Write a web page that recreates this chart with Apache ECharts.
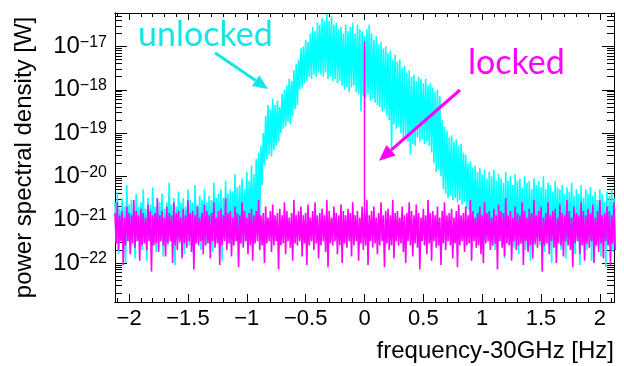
<!DOCTYPE html>
<html>
<head>
<meta charset="utf-8">
<script src="https://cdn.jsdelivr.net/npm/echarts@6/dist/echarts.min.js"></script>
<style>
  html, body { margin: 0; padding: 0; background: #fff; }
  #chart { width: 624px; height: 366px; }
</style>
</head>
<body>
<div id="chart"></div>
<script>
// frequency grid (offset from 30 GHz, Hz); each bin holds an upper and a lower noise excursion
const freqStart = -2.12;
const freqStep = 0.02;

// log10 of power spectral density [W]
const unlockedHigh = [
    -20.6, -20.35, -20.75, -20.5, -20.7, -20.2, -20.65, -20.55, -20.8, -20.4,
    -20.7, -20.6, -20.3, -20.75, -20.5, -20.65, -20.25, -20.7, -20.55, -20.6,
    -20.4, -20.75, -20.6, -20.15, -20.65, -20.5, -20.7, -20.35, -20.6, -20.5,
    -20.7, -20.3, -20.55, -20.6, -20.2, -20.65, -20.45, -20.55, -20.3, -20.6,
    -20.45, -20.55, -20.15, -20.5, -20.4, -20.3, -20.5, -20.1, -20.4, -20.3,
    -20.35, -19.95, -20.25, -20.2, -20.05, -20.3, -19.9, -20.1, -19.75, -19.95,
    -19.6, -19.45, -19.3, -19.0, -18.6, -18.35, -18.45, -18.2, -18.35, -18.25,
    -18.4, -18.1, -18.0, -17.9, -17.75, -17.8, -17.55, -17.4, -17.3, -17.05,
    -17.0, -16.85, -16.9, -16.7, -16.55, -16.65, -16.45, -16.5, -16.35, -16.4,
    -16.25, -16.4, -16.3, -16.5, -16.45, -16.6, -16.55, -16.7, -16.5, -16.65,
    -16.55, -16.45, -16.7, -16.5, -16.6, -16.65, -16.75, -16.6, -16.5, -16.7,
    -16.85, -16.75, -16.95, -16.9, -17.05, -17.0, -17.15, -17.1, -17.3, -17.2,
    -17.35, -17.3, -17.5, -17.45, -17.6, -17.55, -17.7, -17.65, -17.8, -17.7,
    -17.75, -17.85, -17.75, -17.9, -17.85, -17.95, -18.05, -18.0, -18.15, -18.7,
    -18.85, -18.95, -19.1, -19.05, -19.2, -19.15, -19.3, -19.25, -19.45, -19.5,
    -19.7, -19.65, -19.8, -19.75, -19.9, -19.8, -19.95, -19.85, -20.05, -19.9,
    -20.0, -19.85, -20.1, -19.95, -20.05, -20.15, -19.9, -20.1, -20.0, -20.2,
    -19.95, -20.1, -20.05, -20.25, -20.0, -20.15, -20.1, -20.3, -20.05, -20.2,
    -20.1, -20.25, -20.0, -20.3, -20.15, -20.2, -20.35, -20.1, -20.25, -20.3,
    -20.2, -20.4, -20.25, -20.35, -20.15, -20.45, -20.3, -20.4, -20.2, -20.5,
    -20.3, -20.4, -20.25, -20.45, -20.35, -20.55, -20.3, -20.4, -20.6, -20.35,
    -20.45, -20.3, -20.5
];
const unlockedLow = [
    -21.5, -21.8, -21.4, -21.65, -22.0, -21.45, -21.6, -21.35, -21.9, -21.5,
    -21.4, -21.7, -21.55, -21.95, -21.45, -21.6, -21.3, -21.75, -21.5, -21.4,
    -21.85, -21.5, -21.6, -21.35, -21.7, -22.05, -21.45, -21.55, -21.4, -21.8,
    -21.5, -21.6, -21.3, -21.9, -21.45, -21.55, -21.7, -21.35, -21.6, -21.5,
    -21.4, -21.75, -21.5, -21.3, -21.6, -21.95, -21.4, -21.55, -21.35, -21.6,
    -21.3, -21.5, -21.45, -21.25, -21.6, -21.35, -21.4, -21.2, -21.5, -21.3,
    -21.1, -21.0, -20.2, -19.75, -19.6, -19.5, -19.55, -19.4, -19.3, -19.2,
    -19.0, -18.9, -18.85, -18.75, -18.8, -18.6, -18.45, -18.35, -18.0, -17.95,
    -17.85, -17.8, -17.7, -17.75, -17.65, -17.7, -17.6, -17.65, -17.7, -17.6,
    -17.75, -17.7, -17.8, -17.75, -17.85, -17.8, -17.9, -18.0, -17.95, -18.05,
    -17.95, -17.9, -18.05, -18.1, -18.5, -18.15, -18.2, -18.1, -18.25, -18.2,
    -18.3, -18.35, -18.4, -18.5, -18.45, -18.6, -18.7, -19.4, -18.8, -18.9,
    -18.85, -19.0, -19.1, -19.05, -19.2, -19.5, -19.25, -19.3, -19.1, -19.2,
    -19.15, -19.25, -19.2, -19.3, -19.45, -19.7, -19.9, -19.85, -20.0, -20.3,
    -20.4, -20.5, -20.45, -20.55, -20.5, -20.6, -20.55, -20.65, -20.6, -20.75,
    -20.8, -21.0, -21.1, -21.2, -21.3, -21.25, -21.4, -21.5, -21.35, -21.6,
    -21.45, -21.7, -21.5, -21.35, -21.6, -21.9, -21.45, -21.55, -21.4, -21.65,
    -21.5, -21.8, -21.4, -21.55, -21.7, -21.45, -21.95, -21.5, -21.6, -21.35,
    -21.6, -21.5, -21.75, -21.4, -21.6, -22.0, -21.5, -21.65, -21.45, -21.7,
    -21.55, -21.9, -21.45, -21.6, -21.5, -21.8, -21.4, -22.05, -21.6, -21.5,
    -21.7, -21.45, -21.95, -21.55, -21.6, -21.4, -21.85, -21.5, -22.1, -21.6,
    -21.5, -21.75, -21.55
];
const lockedHigh = [
    -20.85, -20.6, -20.9, -20.8, -20.95, -20.7, -20.85, -20.9, -20.55, -20.8,
    -20.9, -20.75, -20.85, -20.95, -20.65, -20.8, -20.9, -20.85, -20.5, -20.9,
    -20.8, -20.95, -20.7, -20.85, -20.9, -20.6, -20.85, -20.8, -20.95, -20.75,
    -20.9, -20.55, -20.85, -20.8, -20.9, -20.7, -20.95, -20.85, -20.65, -20.8,
    -20.9, -20.85, -20.6, -20.95, -20.8, -20.75, -20.9, -20.5, -20.85, -20.8,
    -20.95, -20.7, -20.85, -20.9, -20.6, -20.8, -20.95, -20.85, -20.75, -20.9,
    -20.8, -20.55, -20.9, -20.85, -20.7, -20.95, -20.8, -20.65, -20.9, -20.85,
    -20.75, -20.9, -20.6, -20.8, -20.95, -20.85, -20.55, -20.9, -20.8, -20.7,
    -20.9, -20.85, -20.65, -20.95, -20.8, -20.6, -20.9, -20.85, -20.75, -20.9,
    -20.55, -20.8, -20.95, -20.7, -20.85, -20.9, -20.65, -20.8, -20.9, -20.75,
    -20.85, -20.6, -20.9, -20.8, -20.95, -20.7, -20.85, -20.55, -20.9, -20.8,
    -20.7, -20.95, -20.85, -20.6, -20.9, -20.8, -20.75, -20.9, -20.55, -20.85,
    -20.8, -20.95, -20.7, -20.9, -20.85, -20.6, -20.8, -20.9, -20.65, -20.85,
    -20.95, -20.75, -20.9, -20.55, -20.85, -20.8, -20.9, -20.7, -20.95, -20.8,
    -20.6, -20.9, -20.85, -20.75, -20.95, -20.8, -20.65, -20.9, -20.85, -20.7,
    -20.9, -20.55, -20.8, -20.95, -20.85, -20.7, -20.9, -20.6, -20.85, -20.8,
    -20.95, -20.75, -20.9, -20.65, -20.8, -20.85, -20.5, -20.9, -20.8, -20.95,
    -20.7, -20.85, -20.9, -20.6, -20.8, -20.95, -20.75, -20.85, -20.55, -20.9,
    -20.8, -20.7, -20.95, -20.85, -20.6, -20.9, -20.8, -20.75, -20.95, -20.65,
    -20.85, -20.9, -20.55, -20.8, -20.95, -20.7, -20.85, -20.9, -20.6, -20.8,
    -20.9, -20.75, -20.85, -20.65, -20.95, -20.8, -20.55, -20.9, -20.85, -20.7,
    -20.8, -20.9, -20.6
];
const lockedLow = [
    -21.55, -21.7, -21.5, -22.05, -21.6, -21.5, -21.8, -21.55, -21.65, -21.5,
    -21.95, -21.6, -21.55, -21.7, -21.5, -22.2, -21.6, -21.55, -21.75, -21.5,
    -21.6, -21.85, -21.55, -21.5, -22.0, -21.6, -21.7, -21.5, -21.9, -21.55,
    -21.65, -21.5, -21.75, -22.15, -21.55, -21.6, -21.5, -21.8, -21.6, -21.55,
    -21.9, -21.5, -21.65, -21.55, -22.05, -21.6, -21.5, -21.7, -21.55, -21.85,
    -21.6, -21.5, -22.1, -21.55, -21.65, -21.5, -21.8, -21.6, -21.95, -21.55,
    -21.5, -21.7, -21.6, -22.0, -21.55, -21.5, -21.75, -21.6, -21.5, -22.15,
    -21.6, -21.55, -21.8, -21.5, -21.65, -21.95, -21.55, -21.6, -21.5, -21.85,
    -21.55, -22.05, -21.6, -21.5, -21.7, -21.55, -21.9, -21.6, -21.5, -21.75,
    -22.1, -21.55, -21.6, -21.5, -21.8, -21.6, -22.0, -21.55, -21.65, -21.5,
    -21.85, -21.6, -21.5, -21.95, -21.55, -21.7, -21.6, -22.05, -21.5, -21.65,
    -21.55, -21.8, -21.6, -21.5, -22.1, -21.55, -21.7, -21.6, -21.9, -21.5,
    -21.6, -21.55, -21.75, -22.0, -21.5, -21.6, -21.85, -21.55, -21.65, -22.15,
    -21.5, -21.6, -21.8, -21.55, -21.95, -21.5, -21.65, -21.6, -22.05, -21.55,
    -21.7, -21.5, -21.6, -21.9, -21.55, -22.1, -21.6, -21.5, -21.75, -21.6,
    -21.55, -21.95, -21.5, -21.65, -21.6, -21.8, -22.0, -21.55, -21.5, -21.7,
    -21.6, -21.55, -22.15, -21.5, -21.65, -21.85, -21.55, -21.6, -21.95, -21.5,
    -21.7, -21.6, -21.55, -22.05, -21.5, -21.75, -21.6, -21.9, -21.55, -21.65,
    -21.5, -22.2, -21.6, -21.55, -21.8, -21.5, -21.65, -22.0, -21.55, -21.6,
    -21.85, -21.5, -21.6, -21.7, -22.1, -21.55, -21.5, -21.8, -21.6, -21.95,
    -21.55, -21.65, -21.5, -22.0, -21.6, -21.75, -21.55, -21.9, -21.5, -21.6,
    -22.05, -21.55, -21.7
];

// the locked carrier line at 30 GHz
const carrierFreq = 0;
const carrierBase = -21.2;
const carrierPeak = -16.88;

const xLabelValues = [-2, -1.5, -1, -0.5, 0, 0.5, 1, 1.5, 2];
const yDecades = [-22, -21, -20, -19, -18, -17];

const xMin = -2.12, xMax = 2.12;
const yMin = -22.903, yMax = -16.227;

const FONT = "'Liberation Sans', Arial, Helvetica, sans-serif";
const CYAN = "#00ffff";
const MAGENTA = "#ff00ff";
const CYAN_TEXT = "#14e6e6";

function zigzag(high, low) {
    const pts = [];
    for (let i = 0; i < high.length; i++) {
        const x = freqStart + i * freqStep;
        pts.push([x, high[i]]);
        pts.push([x + freqStep / 2, low[i]]);
    }
    return pts;
}

const xMinor = [];
for (let i = -21; i <= 21; i++) {
    if (i % 5 !== 0) xMinor.push(i / 10);
}
const yMinor = [];
for (let n = -23; n <= -17; n++) {
    for (let k = 2; k <= 9; k++) yMinor.push(n + Math.log10(k));
}

function minusText(v) {
    return v < 0 ? "\u2212" + Math.abs(v) : String(v);
}

function xAxisOf(pos, values, len, withLabels, extra) {
    return Object.assign({
        type: "value", position: pos, min: xMin, max: xMax,
        axisLine: { show: true, onZero: false, lineStyle: { color: "#000", width: 1 } },
        axisTick: { show: true, inside: true, length: len, customValues: values, lineStyle: { color: "#000", width: 1 } },
        axisLabel: withLabels ? {
            show: true, customValues: values, margin: 6, color: "#000",
            fontFamily: FONT, fontSize: 22, formatter: minusText
        } : { show: false },
        splitLine: { show: false }
    }, extra || {});
}

function yAxisOf(pos, values, len, withLabels, extra) {
    return Object.assign({
        type: "value", position: pos, min: yMin, max: yMax,
        axisLine: { show: true, onZero: false, lineStyle: { color: "#000", width: 1 } },
        axisTick: { show: true, inside: true, length: len, customValues: values, lineStyle: { color: "#000", width: 1 } },
        axisLabel: withLabels ? {
            show: true, customValues: values, margin: 8,
            formatter: v => "{b|10}{s|\u2212" + Math.abs(v) + "}",
            rich: {
                b: { fontFamily: FONT, fontSize: 24, color: "#000", lineHeight: 24, verticalAlign: "bottom" },
                s: { fontFamily: FONT, fontSize: 16, color: "#000", lineHeight: 16, verticalAlign: "top" }
            }
        } : { show: false },
        splitLine: { show: false }
    }, extra || {});
}

function arrow(from, tip, color, headLen, headHalf, width) {
    const dx = tip[0] - from[0], dy = tip[1] - from[1];
    const len = Math.sqrt(dx * dx + dy * dy);
    const ux = dx / len, uy = dy / len;
    const bx = tip[0] - ux * headLen, by = tip[1] - uy * headLen;
    return [
        { type: "line", shape: { x1: from[0], y1: from[1], x2: bx, y2: by },
          style: { stroke: color, lineWidth: width }, z: 100 },
        { type: "polygon",
          shape: { points: [tip, [bx - uy * headHalf, by + ux * headHalf], [bx + uy * headHalf, by - ux * headHalf]] },
          style: { fill: color }, z: 100 }
    ];
}

const chart = echarts.init(document.getElementById("chart"), null, { renderer: "canvas" });

const option = {
    animation: false,
    backgroundColor: "#fff",
    grid: { left: 115, right: 10, top: 13, bottom: 64, containLabel: false, outerBoundsMode: "none" },
    xAxis: [
        xAxisOf("bottom", xLabelValues, 8, true),
        xAxisOf("bottom", xMinor, 4, false, {
            name: "frequency-30GHz [Hz]", nameLocation: "end", nameGap: 0,
            nameTextStyle: { fontFamily: FONT, fontSize: 24, color: "#000", align: "right", verticalAlign: "top", padding: [37, 0, 0, 0] }
        }),
        xAxisOf("top", xLabelValues, 7, false),
        xAxisOf("top", xMinor, 4, false)
    ],
    yAxis: [
        yAxisOf("left", yDecades, 12, true),
        yAxisOf("left", yMinor, 7, false, {
            name: "power spectral density [W]", nameLocation: "middle", nameGap: 79,
            nameTextStyle: { fontFamily: FONT, fontSize: 24, color: "#000" }
        }),
        yAxisOf("right", yDecades, 12, false),
        yAxisOf("right", yMinor, 7, false)
    ],
    series: [
        {
            name: "unlocked", type: "line", xAxisIndex: 0, yAxisIndex: 0,
            data: zigzag(unlockedHigh, unlockedLow),
            showSymbol: false, symbol: "none",
            lineStyle: { color: CYAN, width: 1.6 }, z: 2
        },
        {
            name: "locked", type: "line", xAxisIndex: 0, yAxisIndex: 0,
            data: zigzag(lockedHigh, lockedLow),
            showSymbol: false, symbol: "none",
            lineStyle: { color: MAGENTA, width: 1.6 }, z: 3
        },
        {
            name: "carrier", type: "line", xAxisIndex: 0, yAxisIndex: 0,
            data: [[carrierFreq, carrierBase], [carrierFreq, carrierPeak]],
            showSymbol: false, symbol: "none",
            lineStyle: { color: MAGENTA, width: 1.5 }, z: 4
        }
    ],
    graphic: [
        { type: "text", x: 138, y: 35, z: 100,
          style: { text: "unlocked", fill: CYAN_TEXT, fontFamily: "Lato", fontSize: 34, verticalAlign: "middle" } },
        { type: "text", x: 468, y: 63, z: 100,
          style: { text: "locked", fill: MAGENTA, fontFamily: "Lato", fontSize: 34, verticalAlign: "middle" } }
    ].concat(
        arrow([215, 52.7], [268, 89], CYAN_TEXT, 15, 6.5, 3),
        arrow([460, 90], [379, 160.7], MAGENTA, 16, 7, 3)
    )
};

chart.setOption(option);
</script>
</body>
</html>
